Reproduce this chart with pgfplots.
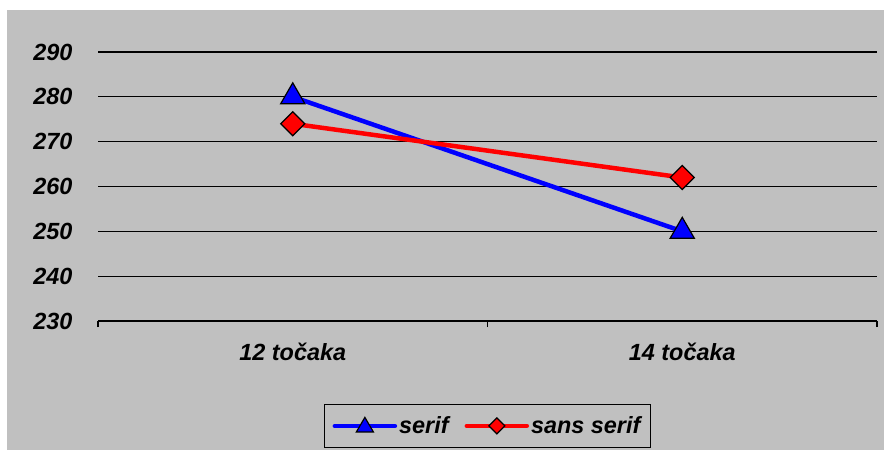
\documentclass[border=0pt]{standalone}
\usepackage{pgfplots}
\pgfplotsset{compat=1.18}
\usepackage{fontspec}
\setmainfont{Liberation Sans}
\definecolor{bggray}{HTML}{C0C0C0}
\newcommand{\lblfont}{\fontsize{23.5}{27}\selectfont\bfseries\itshape}
\begin{document}
\begin{tikzpicture}
\fill[white] (0bp,0bp) rectangle (885bp,450bp);
\fill[bggray] (7bp,0bp) rectangle (884bp,440bp);
\begin{axis}[
  at={(98bp,129bp)}, anchor=south west,
  scale only axis, width=779bp, height=269bp,
  xmin=-0.5, xmax=1.5, ymin=230, ymax=290,
  xtick={0,1}, xticklabels={12 točaka, 14 točaka},
  ytick={230,240,...,290},
  major tick length=0pt,
  axis line style={draw=none},
  ymajorgrids, grid style={black, line width=1.3bp},
  extra x ticks={-0.5,0.5,1.5}, extra x tick labels={},
  extra x tick style={grid=none, major tick length=6bp, tick align=outside, tickpos=bottom, tick style={black, line width=1.3bp}},
  tick label style={font=\lblfont},
  /pgf/number format/assume math mode=true,
  xticklabel style={yshift=-19bp},
  yticklabel style={xshift=-22bp},
  clip=false,
  legend columns=2,
  legend style={at={(0.5,-0.39)}, anchor=center, fill=bggray, draw=black, line width=1.2bp, font=\lblfont, inner xsep=8bp, inner ysep=10bp, /tikz/every even column/.append style={column sep=14bp}},
]
\addplot[blue, line width=4.5bp, mark=triangle*, mark size=14bp, mark options={fill=blue, draw=black, line width=1.2bp},
  legend image code/.code={\draw[blue, line width=4.5bp, line cap=round] (0bp,0bp) -- (60bp,0bp);
    \draw[black, fill=blue, line width=1.2bp] (30bp,8.5bp) -- (38.5bp,-6bp) -- (21.5bp,-6bp) -- cycle;}]
  coordinates {(0,280) (1,250)};
\addlegendentry{serif}
\addplot[red, line width=4.5bp, mark=square*, mark size=8.5bp, mark options={fill=red, draw=black, line width=1.2bp, rotate=45},
  legend image code/.code={\draw[red, line width=4.5bp, line cap=round] (0bp,0bp) -- (60bp,0bp);
    \draw[black, fill=red, line width=1.2bp] (30bp,8bp) -- (38bp,0bp) -- (30bp,-8bp) -- (22bp,0bp) -- cycle;}]
  coordinates {(0,274) (1,262)};
\addlegendentry{sans serif}
\end{axis}
\end{tikzpicture}
\end{document}
